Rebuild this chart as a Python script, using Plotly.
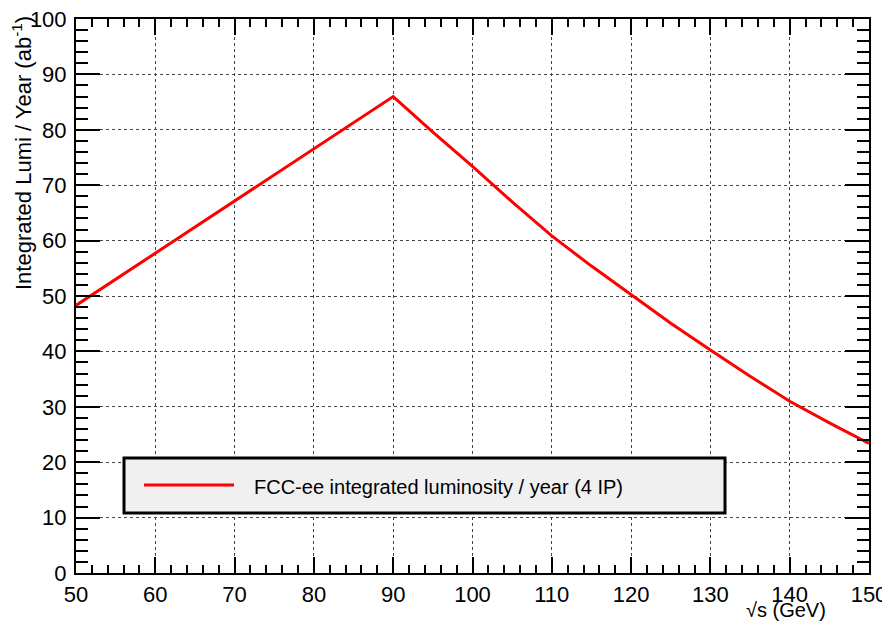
import plotly.graph_objects as go

# Data
sqrt_s = [50, 90, 95, 100, 105, 110, 115, 120, 125, 130, 135, 140, 145, 150]
lumi = [48.3, 86.0, 79.6, 73.4, 67.0, 60.85, 55.4, 50.2, 45.1, 40.25, 35.5, 31.0, 27.1, 23.4]
series_name = "FCC-ee integrated luminosity / year (4 IP)"
x_ticks = [50, 60, 70, 80, 90, 100, 110, 120, 130, 140, 150]
y_ticks = [0, 10, 20, 30, 40, 50, 60, 70, 80, 90, 100]

OFF = 8  # page body margin
W, H = 890 - OFF, 621 - OFF
L, T = 76 - OFF, 19 - OFF
R = W - (869 - OFF)
B = H - (573 - OFF)
pw, ph = W - L - R, H - T - B

def px(xs):  # screen pixel -> paper
    return (xs - OFF - L) / pw

def py(ys):
    return (H - B - (ys - OFF)) / ph

FONT = "Liberation Sans, Arial, Helvetica, sans-serif"

fig = go.Figure()
fig.add_trace(go.Scatter(x=sqrt_s, y=lumi, mode="lines", name=series_name,
                         line=dict(color="#ff0000", width=3), showlegend=False))

axis_common = dict(
    showline=True, linecolor="black", linewidth=2, mirror="allticks",
    ticks="inside", tickcolor="black", tickwidth=2, automargin=False,
    ticklabeloverflow="allow",
    showgrid=True, gridcolor="#444444", gridwidth=1, griddash="dot",
    zeroline=False, tickfont=dict(family=FONT, size=22, color="black"),
)

fig.update_xaxes(range=[50, 150], tickvals=x_ticks, ticklen=16,
                 minor=dict(ticks="inside", ticklen=8, dtick=2, tick0=50,
                            tickwidth=2, tickcolor="black", showgrid=False),
                 ticklabelstandoff=1, **axis_common)
fig.update_yaxes(range=[0, 100], tickvals=y_ticks, ticklen=24,
                 minor=dict(ticks="inside", ticklen=12, dtick=2, tick0=0,
                            tickwidth=2, tickcolor="black", showgrid=False),
                 ticklabelstandoff=3, **axis_common)

# Legend box (ROOT TLegend style)
fig.add_shape(type="rect", xref="paper", yref="paper", x0=px(124), x1=px(725),
              y0=py(513), y1=py(458),
              fillcolor="#f0f0f0", line=dict(color="black", width=3), layer="above")
fig.add_shape(type="line", xref="paper", yref="paper", x0=px(144), x1=px(234),
              y0=py(485), y1=py(485), line=dict(color="#ff0000", width=3), layer="above")
fig.add_annotation(xref="paper", yref="paper", x=px(252), y=py(487), xanchor="left",
                   yanchor="middle", text=series_name, showarrow=False,
                   font=dict(family=FONT, size=20, color="black"))

# Axis titles
fig.add_annotation(xref="paper", yref="paper", x=px(22), y=py(14), xanchor="center",
                   yanchor="top", textangle=-90, showarrow=False,
                   text="Integrated Lumi / Year (ab<sup>-1</sup>)",
                   font=dict(family=FONT, size=22, color="black"))
fig.add_annotation(xref="paper", yref="paper", x=px(828), y=py(610), xanchor="right",
                   yanchor="middle", showarrow=False, text="√s (GeV)",
                   font=dict(family=FONT, size=20, color="black"))

fig.update_layout(width=W, height=H, margin=dict(l=L, r=R, t=T, b=B),
                  paper_bgcolor="white", plot_bgcolor="white", showlegend=False)

fig.write_html("out.html")
